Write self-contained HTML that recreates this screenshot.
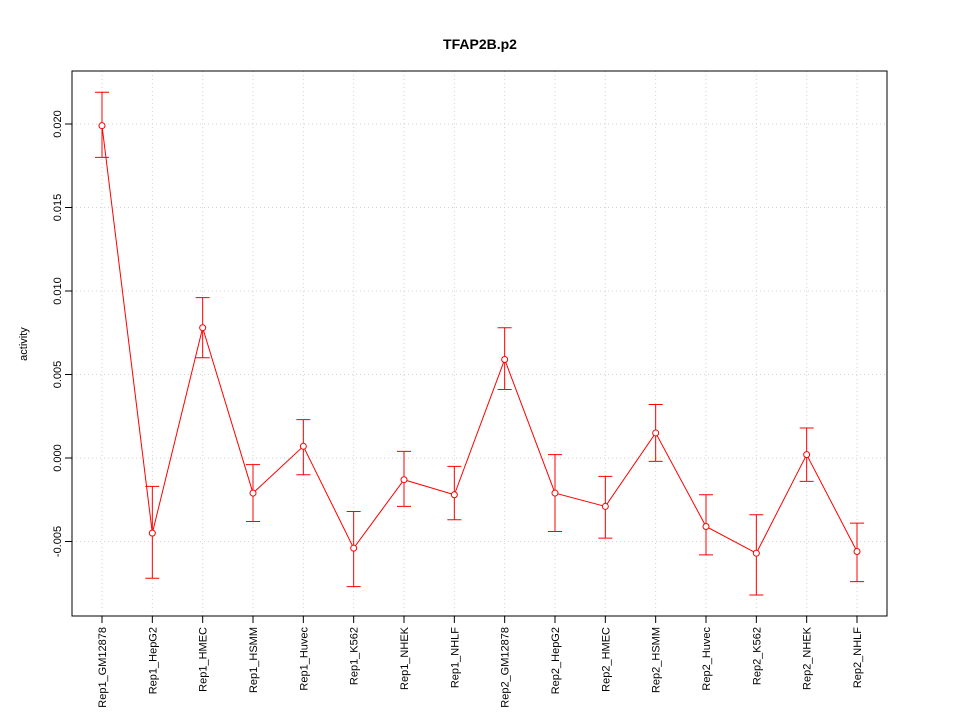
<!DOCTYPE html>
<html><head><meta charset="utf-8"><style>
body{margin:0;background:#fff;}
svg text{font-family:"Liberation Sans",sans-serif;}
</style></head><body>
<svg id="chart" width="960" height="720" viewBox="0 0 960 720">
<text x="480" y="49" text-anchor="middle" font-size="14" font-weight="bold">TFAP2B.p2</text>
<text transform="translate(27,344) rotate(-90)" text-anchor="middle" font-size="11">activity</text>
<g id="grid"></g><g id="axes"></g><g id="marks"></g>
<rect x="72" y="71" width="815" height="545" fill="none" stroke="#000"/>
</svg>
<script>
const categories=["Rep1_GM12878","Rep1_HepG2","Rep1_HMEC","Rep1_HSMM","Rep1_Huvec","Rep1_K562","Rep1_NHEK","Rep1_NHLF","Rep2_GM12878","Rep2_HepG2","Rep2_HMEC","Rep2_HSMM","Rep2_Huvec","Rep2_K562","Rep2_NHEK","Rep2_NHLF"];
const values=[0.0199,-0.0045,0.0078,-0.0021,0.0007,-0.0054,-0.0013,-0.0022,0.0059,-0.0021,-0.0029,0.0015,-0.0041,-0.0057,0.0002,-0.0056];
const upper=[0.0219,-0.0017,0.0096,-0.0004,0.0023,-0.0032,0.0004,-0.0005,0.0078,0.0002,-0.0011,0.0032,-0.0022,-0.0034,0.0018,-0.0039];
const lower=[0.0180,-0.0072,0.0060,-0.0038,-0.0010,-0.0077,-0.0029,-0.0037,0.0041,-0.0044,-0.0048,-0.0002,-0.0058,-0.0082,-0.0014,-0.0074];
const yTicks=[-0.005,0,0.005,0.010,0.015,0.020];
const yTickLabels=["-0.005","0.000","0.005","0.010","0.015","0.020"];
const NS="http://www.w3.org/2000/svg";
function x(i){return 102+i*(857-102)/(categories.length-1);}
function y(v){return 458-v*16700;}
function mk(p,t,a){const e=document.createElementNS(NS,t);for(const k in a)e.setAttribute(k,a[k]);p.appendChild(e);return e;}
const grid=document.getElementById('grid'),axes=document.getElementById('axes'),marks=document.getElementById('marks');
yTicks.forEach((v,i)=>{
 const g=mk(grid,'line',{x1:72,x2:887,y1:y(v),y2:y(v),stroke:'#d3d3d3','stroke-dasharray':'1,3'});
 
 
 const t=mk(axes,'line',{x1:65,x2:72,y1:y(v),y2:y(v),stroke:'#000'});
 
 
 const l=mk(axes,'text',{transform:`translate(61,${y(v)}) rotate(-90)`,'text-anchor':'middle','font-size':11});
 l.textContent=yTickLabels[i];
 
 
});
categories.forEach((c,i)=>{
 const g=mk(grid,'line',{x1:x(i),x2:x(i),y1:71,y2:616,stroke:'#d3d3d3','stroke-dasharray':'1,3'});
 
 
 const t=mk(axes,'line',{x1:x(i),x2:x(i),y1:616,y2:623,stroke:'#000'});
 
 
 const l=mk(axes,'text',{transform:`translate(${x(i)+4},627) rotate(-90)`,'text-anchor':'end','font-size':11});
 l.textContent=c;
 
 
});
const line=mk(marks,'polyline',{points:values.map((v,i)=>x(i)+','+y(v)).join(' '),fill:'none',stroke:'#ff0000'});


values.forEach((v,i)=>{
 const e=mk(marks,'path',{d:`M${x(i)},${y(upper[i])}V${y(lower[i])}M${x(i)-7},${y(upper[i])}h14M${x(i)-7},${y(lower[i])}h14`,stroke:'#ff0000',fill:'none'});
 
 
 const p=mk(marks,'circle',{cx:x(i),cy:y(v),r:3,fill:'#fff',stroke:'#ff0000'});
 
 
});
</script>
</body></html>
